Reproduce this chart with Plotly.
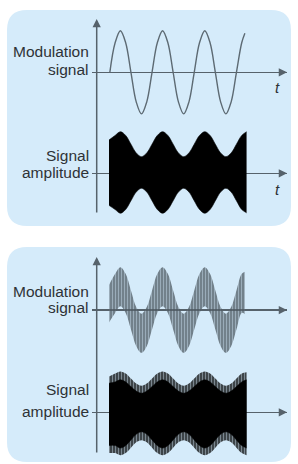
import plotly.graph_objects as go

W, H = 298, 464

# ---------------- data ----------------
# time in modulation periods, amplitude in units of the top sine amplitude
T_MOD = [0.02, 0.145, 0.27, 0.395, 0.52, 0.645, 0.77, 0.895, 1.02, 1.145, 1.27, 1.395,
         1.52, 1.645, 1.77, 1.895, 2.02, 2.145, 2.27, 2.395, 2.52, 2.645, 2.77, 2.895,
         3.02, 3.145, 3.22]
MOD = [0, 0.71, 1, 0.71, 0, -0.71, -1, -0.71,
       0, 0.71, 1, 0.71, 0, -0.71, -1, -0.71,
       0, 0.71, 1, 0.71, 0, -0.71, -1, -0.71,
       0, 0.71, 0.94]

T_ENV = [0.0, 0.145, 0.27, 0.395, 0.52, 0.645, 0.77, 0.895, 1.02, 1.145, 1.27, 1.395,
         1.52, 1.645, 1.77, 1.895, 2.02, 2.145, 2.27, 2.395, 2.52, 2.645, 2.77, 2.895,
         3.02, 3.145, 3.26]
ENV_UP = [0.80, 0.91, 1.0, 0.91, 0.70, 0.49, 0.40, 0.49,
          0.70, 0.91, 1.0, 0.91, 0.70, 0.49, 0.40, 0.49,
          0.70, 0.91, 1.0, 0.91, 0.70, 0.49, 0.40, 0.49,
          0.70, 0.91, 1.0]
ENV_LO = [-0.77, -0.87, -0.96, -0.87, -0.66, -0.45, -0.36, -0.45,
          -0.66, -0.87, -0.96, -0.87, -0.66, -0.45, -0.36, -0.45,
          -0.66, -0.87, -0.96, -0.87, -0.66, -0.45, -0.36, -0.45,
          -0.66, -0.87, -0.95]

T_BAND = [0.0, 0.145, 0.27, 0.395, 0.52, 0.645, 0.77, 0.895, 1.02, 1.145, 1.27, 1.395,
          1.52, 1.645, 1.77, 1.895, 2.02, 2.145, 2.27, 2.395, 2.52, 2.645, 2.77, 2.895,
          3.02, 3.145, 3.22]
BAND_UP = [0.60, 0.87, 1.03, 0.87, 0.47, 0.07, -0.09, 0.07,
           0.47, 0.87, 1.03, 0.87, 0.47, 0.07, -0.09, 0.07,
           0.47, 0.87, 1.03, 0.87, 0.47, 0.07, -0.09, 0.07,
           0.47, 0.87, 0.92]
BAND_LO = [-0.30, -0.07, 0.09, -0.07, -0.47, -0.87, -1.03, -0.87,
           -0.47, -0.07, 0.09, -0.07, -0.47, -0.87, -1.03, -0.87,
           -0.47, -0.07, 0.09, -0.07, -0.47, -0.87, -1.03, -0.87,
           -0.47, -0.07, -0.10]

T_AM = [0.0, 0.145, 0.27, 0.395, 0.52, 0.645, 0.77, 0.895, 1.02, 1.145, 1.27, 1.395,
        1.52, 1.645, 1.77, 1.895, 2.02, 2.145, 2.27, 2.395, 2.52, 2.645, 2.77, 2.895,
        3.02, 3.145, 3.26]
AM_OUT_UP = [0.86, 0.93, 0.98, 0.93, 0.81, 0.69, 0.64, 0.69,
             0.81, 0.93, 0.98, 0.93, 0.81, 0.69, 0.64, 0.69,
             0.81, 0.93, 0.98, 0.93, 0.81, 0.69, 0.64, 0.69,
             0.81, 0.93, 0.96]
AM_OUT_LO = [-0.98, -0.98, -1.03, -0.98, -0.85, -0.72, -0.67, -0.72,
             -0.85, -0.98, -1.03, -0.98, -0.85, -0.72, -0.67, -0.72,
             -0.85, -0.98, -1.03, -0.98, -0.85, -0.72, -0.67, -0.72,
             -0.85, -0.98, -1.03]
AM_CORE_UP = [0.70, 0.73, 0.78, 0.73, 0.62, 0.51, 0.46, 0.51,
              0.62, 0.73, 0.78, 0.73, 0.62, 0.51, 0.46, 0.51,
              0.62, 0.73, 0.78, 0.73, 0.62, 0.51, 0.46, 0.51,
              0.62, 0.73, 0.78]
AM_CORE_LO = [-0.80, -0.80, -0.86, -0.80, -0.665, -0.53, -0.47, -0.53,
              -0.665, -0.80, -0.86, -0.80, -0.665, -0.53, -0.47, -0.53,
              -0.665, -0.80, -0.86, -0.80, -0.665, -0.53, -0.47, -0.53,
              -0.665, -0.80, -0.86]

ROW_LABELS = [["Modulation", "signal"], ["Signal", "amplitude"],
              ["Modulation", "signal"], ["Signal", "amplitude"]]
TIME_LABEL = "t"

# ---------------- layout constants (pixels) ----------------
T0_PX, PX_PER_T = 109.0, 42.2
X_LEFT_PX, X_TIP_PX = 91.5, 287.0
S = 41.6  # px per amplitude unit
ROWS = [(72.3, 22, 126), (173.3, 128, 220), (310.0, 258, 358), (412.3, 362, 460)]
LABEL_Y = [(51.3, 69.8), (155.3, 172.3), (291.8, 307.8), (389.0, 411.5)]
T_LABEL_Y = [87.5, 189.0]
VAXES = [(96.7, 19, 214), (96.7, 257, 454)]
PANELS = [(7, 10, 291, 226), (7, 247, 291, 462)]
R = 20

PANEL_COLOR = "#d5ebfa"
AXIS_COLOR = "#56626b"
WAVE_COLOR = "#5d6a73"
TEXT_COLOR = "#2e3236"
FONT = "Liberation Sans, Arial, sans-serif"
FONT_SIZE = 15.5

XMIN = (X_LEFT_PX - T0_PX) / PX_PER_T
XMAX = (X_TIP_PX - T0_PX) / PX_PER_T


def px(x):
    return x / W


def py(y):
    return 1 - y / H


fig = go.Figure()


def ax_ids(i):
    return ("x" if i == 1 else f"x{i}"), ("y" if i == 1 else f"y{i}")


# row 1: modulation sine
xa, ya = ax_ids(1)
fig.add_trace(go.Scatter(x=T_MOD, y=MOD, mode="lines", xaxis=xa, yaxis=ya,
                         line=dict(color=WAVE_COLOR, width=1.4, shape="spline", smoothing=1.0)))

# row 2: amplitude envelope (solid)
xa, ya = ax_ids(2)
fig.add_trace(go.Scatter(x=T_ENV, y=ENV_LO, mode="lines", xaxis=xa, yaxis=ya,
                         line=dict(color="black", width=0.6, shape="spline")))
fig.add_trace(go.Scatter(x=T_ENV, y=ENV_UP, mode="lines", xaxis=xa, yaxis=ya, fill="tonexty",
                         fillcolor="black", line=dict(color="black", width=0.6, shape="spline")))

# row 3: modulation with carrier (hatched band)
xa, ya = ax_ids(3)
fig.add_trace(go.Scatter(x=T_BAND, y=BAND_LO, mode="lines", xaxis=xa, yaxis=ya,
                         line=dict(width=0, shape="spline")))
fig.add_trace(go.Scatter(x=T_BAND, y=BAND_UP, mode="lines", xaxis=xa, yaxis=ya, fill="tonexty",
                         fillpattern=dict(shape="|", size=3, solidity=0.5, fillmode="replace",
                                          fgcolor="#4a555d", bgcolor="rgba(120,135,146,0.35)"),
                         line=dict(width=0, shape="spline")))

# row 4: amplitude with carrier
xa, ya = ax_ids(4)
fig.add_trace(go.Scatter(x=T_AM, y=AM_OUT_LO, mode="lines", xaxis=xa, yaxis=ya,
                         line=dict(width=0, shape="spline")))
fig.add_trace(go.Scatter(x=T_AM, y=AM_OUT_UP, mode="lines", xaxis=xa, yaxis=ya, fill="tonexty",
                         fillpattern=dict(shape="|", size=3, solidity=0.55, fillmode="replace",
                                          fgcolor="black", bgcolor="rgba(0,0,0,0.15)"),
                         line=dict(width=0, shape="spline")))
fig.add_trace(go.Scatter(x=T_AM, y=AM_CORE_LO, mode="lines", xaxis=xa, yaxis=ya,
                         line=dict(color="black", width=0.5, shape="spline")))
fig.add_trace(go.Scatter(x=T_AM, y=AM_CORE_UP, mode="lines", xaxis=xa, yaxis=ya, fill="tonexty",
                         fillcolor="black", line=dict(color="black", width=0.5, shape="spline")))

layout = dict(width=W, height=H, margin=dict(l=0, r=0, t=0, b=0), showlegend=False,
              paper_bgcolor="white", plot_bgcolor="rgba(0,0,0,0)", hovermode=False)
annotations = []
shapes = []

for i, (yc, top, bot) in enumerate(ROWS, start=1):
    xk = "xaxis" if i == 1 else f"xaxis{i}"
    yk = "yaxis" if i == 1 else f"yaxis{i}"
    xa, ya = ax_ids(i)
    layout[xk] = dict(domain=[px(X_LEFT_PX), px(X_TIP_PX)], range=[XMIN, XMAX],
                      visible=False, anchor=ya, fixedrange=True)
    layout[yk] = dict(domain=[py(bot), py(top)], range=[(yc - bot) / S, (yc - top) / S],
                      showgrid=False, showticklabels=False, ticks="", showline=False,
                      zeroline=True, zerolinecolor=AXIS_COLOR, zerolinewidth=1.5,
                      anchor=xa, fixedrange=True)
    # arrow head at the end of the time axis
    annotations.append(dict(x=XMAX - 1e-4, y=0, xref=xa, yref=ya, text="", showarrow=True,
                            ax=-9, ay=0, arrowhead=2, arrowsize=1.1, arrowwidth=1.5,
                            arrowcolor=AXIS_COLOR, standoff=0))
    # row labels
    for line_text, ly in zip(ROW_LABELS[i - 1], LABEL_Y[i - 1]):
        annotations.append(dict(x=px(90.5), y=py(ly), xref="paper", yref="paper",
                                text=line_text, showarrow=False, xanchor="right",
                                yanchor="middle", font=dict(family=FONT, size=FONT_SIZE,
                                                            color=TEXT_COLOR)))

for ty in T_LABEL_Y:
    annotations.append(dict(x=px(277), y=py(ty), xref="paper", yref="paper",
                            text=f"<i>{TIME_LABEL}</i>", showarrow=False,
                            xanchor="center", yanchor="middle",
                            font=dict(family=FONT, size=15, color=TEXT_COLOR)))

for vx, vtop, vbot in VAXES:
    annotations.append(dict(x=px(vx), y=py(vtop), xref="paper", yref="paper", text="",
                            showarrow=True, ax=0, ay=vbot - vtop, arrowhead=2,
                            arrowsize=1.1, arrowwidth=1.5, arrowcolor=AXIS_COLOR,
                            standoff=0))

for x0, y0, x1, y1 in PANELS:
    path = (f"M {px(x0 + R)},{py(y0)} L {px(x1 - R)},{py(y0)} "
            f"Q {px(x1)},{py(y0)} {px(x1)},{py(y0 + R)} "
            f"L {px(x1)},{py(y1 - R)} Q {px(x1)},{py(y1)} {px(x1 - R)},{py(y1)} "
            f"L {px(x0 + R)},{py(y1)} Q {px(x0)},{py(y1)} {px(x0)},{py(y1 - R)} "
            f"L {px(x0)},{py(y0 + R)} Q {px(x0)},{py(y0)} {px(x0 + R)},{py(y0)} Z")
    shapes.append(dict(type="path", path=path, xref="paper", yref="paper",
                       fillcolor=PANEL_COLOR, line=dict(width=0), layer="below"))

layout["annotations"] = annotations
layout["shapes"] = shapes
fig.update_layout(**layout)

fig.write_html("out.html", config={"displayModeBar": False, "staticPlot": True},
               post_script="document.body.style.margin='0';document.body.style.overflow='hidden';")
